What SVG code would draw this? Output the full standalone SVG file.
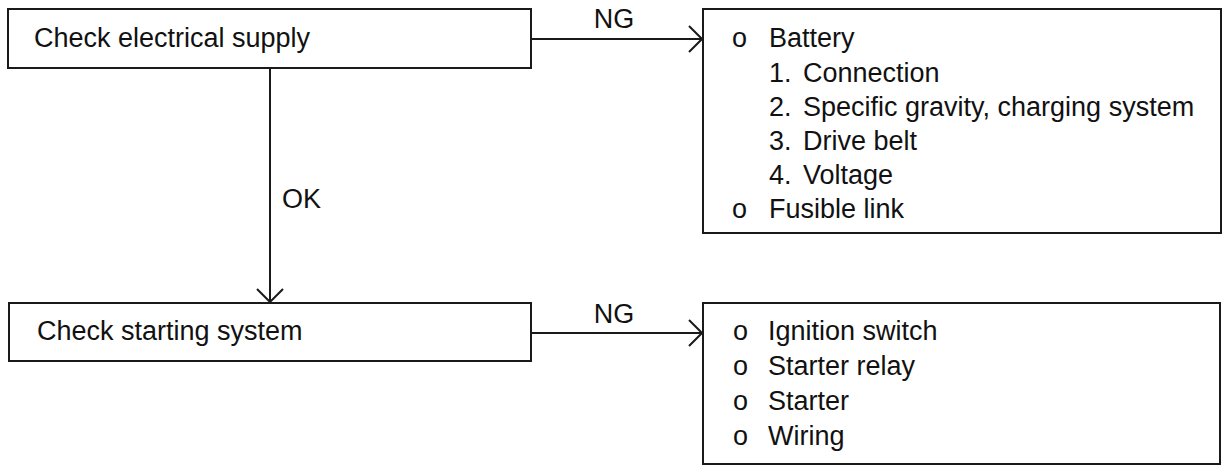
<svg xmlns="http://www.w3.org/2000/svg" width="1225" height="466" viewBox="0 0 1225 466">
<style>
.box{fill:#fff;stroke:#1a1a1a;stroke-width:2}
.t{font-family:"Liberation Sans",Arial,sans-serif;font-size:27px;fill:#111}
.edge{fill:none;stroke:#1a1a1a;stroke-width:2}
</style>
<defs>
<marker id="chev" viewBox="0 0 15 28" refX="14" refY="14" markerWidth="15" markerHeight="28" markerUnits="userSpaceOnUse" orient="auto">
<path d="M1,1 L14,14 L1,27" fill="none" stroke="#1a1a1a" stroke-width="2"/>
</marker>
</defs>
<rect width="1225" height="466" fill="#fff"/>
<g id="connectors">
<path class="edge" d="M531,39 H702" marker-end="url(#chev)"/>
<path class="edge" d="M270,68 V302" marker-end="url(#chev)"/>
<path class="edge" d="M531,333 H702" marker-end="url(#chev)"/>
<text class="t" x="614" y="28" text-anchor="middle">NG</text>
<text class="t" x="282" y="208">OK</text>
<text class="t" x="614" y="323" text-anchor="middle">NG</text>
</g>
<g id="n1">
<rect class="box" x="8" y="9" width="523" height="59"/>
<text class="t" x="34" y="47">Check electrical supply</text>
</g>
<g id="n2">
<rect class="box" x="703" y="9" width="518" height="224"/>
<text class="t" x="732" y="47">o</text><text class="t" x="769" y="47">Battery</text>
<text class="t" x="769" y="82">1.</text><text class="t" x="803" y="82">Connection</text>
<text class="t" x="769" y="116">2.</text><text class="t" x="803" y="116">Specific gravity, charging system</text>
<text class="t" x="769" y="150">3.</text><text class="t" x="803" y="150">Drive belt</text>
<text class="t" x="769" y="184">4.</text><text class="t" x="803" y="184">Voltage</text>
<text class="t" x="732" y="218">o</text><text class="t" x="769" y="218">Fusible link</text>
</g>
<g id="n3">
<rect class="box" x="9" y="303" width="522" height="58"/>
<text class="t" x="37" y="340">Check starting system</text>
</g>
<g id="n4">
<rect class="box" x="703" y="303" width="517" height="161"/>
<text class="t" x="733" y="340">o</text><text class="t" x="768" y="340">Ignition switch</text>
<text class="t" x="733" y="375">o</text><text class="t" x="768" y="375">Starter relay</text>
<text class="t" x="733" y="410">o</text><text class="t" x="768" y="410">Starter</text>
<text class="t" x="733" y="445">o</text><text class="t" x="768" y="445">Wiring</text>
</g>
</svg>
